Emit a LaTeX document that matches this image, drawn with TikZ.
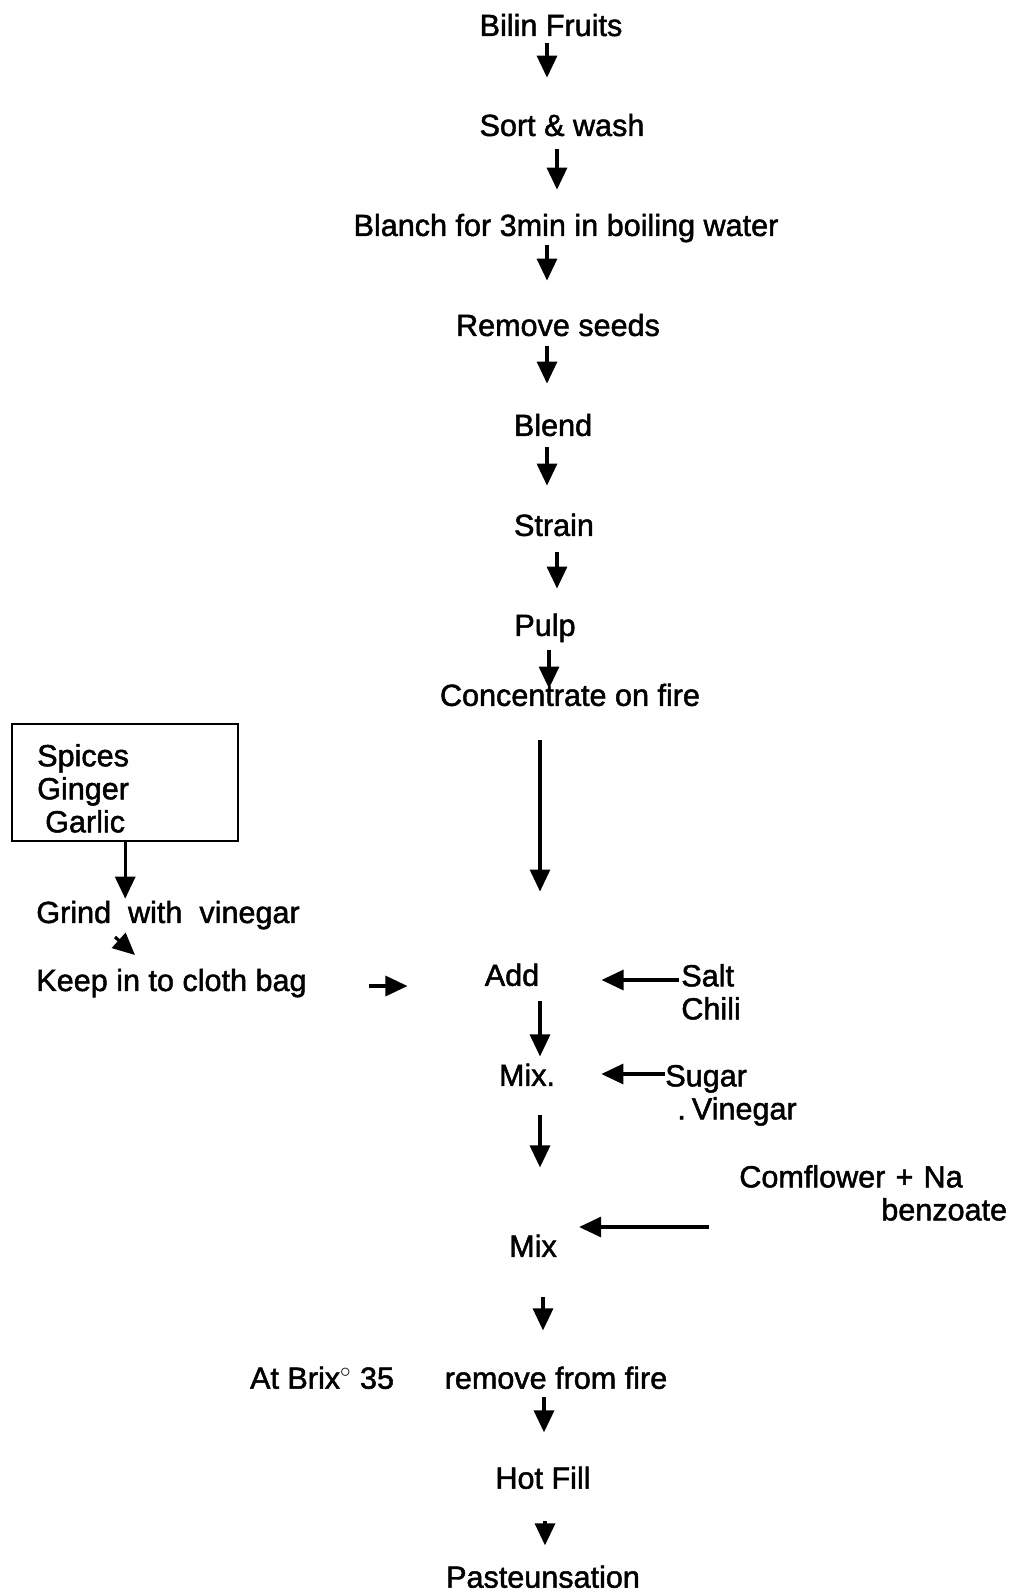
\documentclass[tikz,border=0pt]{standalone}
\usepackage{fontspec}
\setmainfont{Liberation Sans}[UprightFeatures={FakeBold=1.6}]
\usetikzlibrary{positioning, arrows.meta}

\tikzset{
	stage/.style={inner sep=0pt, text height=12.5pt, text depth=0pt, font=\fontsize{17.4pt}{18.8pt}\selectfont},
	flow/.style={-{Triangle[width=0.4cm, length=0.44cm]}, line width=1.8pt},
	spicebox/.style={draw, line width=1.4pt, anchor=north west, align=left, text width=3.52cm,
		inner xsep=0.5cm, inner ysep=0pt, text height=23.9pt, text depth=42.7pt},
	side/.style={anchor=north west, align=left},
}

\begin{document}
\begin{tikzpicture}[x=0.02cm, y=-0.02cm, node distance=2cm, every node/.style={stage}]
	\useasboundingbox (0,0) rectangle (1011,1593);

	% main line
	\node (q0) at (551,25) {Bilin Fruits};
	\node[below of = q0, xshift=0.22cm] (q1) {Sort \& wash};
	\node[below of = q1, xshift=0.08cm] (q2) {Blanch for 3min in boiling water};
	\node[below of = q2, xshift=-0.16cm] (q3) {Remove seeds};
	\node[below of = q3, xshift=-0.1cm] (q4) {Blend};
	\node[below of = q4, xshift=0.02cm] (q5) {Strain};
	\node[below of = q5, xshift=-0.18cm] (q6) {Pulp};
	\node[below of = q6, node distance=1.4cm, xshift=0.5cm] (q7) {Concentrate on fire};
	\node[below of = q7, node distance=5.6cm, xshift=-1.16cm] (add) {Add};
	\node[below of = add, xshift=0.3cm] (mix1) {Mix.};
	\node[below of = mix1, node distance=3.42cm, xshift=0.12cm] (mix2) {Mix};
	\node[below of = mix2, node distance=2.64cm, xshift=0.46cm] (rm) {remove from fire};
	\node[left = 1cm of rm] (brix) {At Brix$^\circ$ 35};
	\node[below of = rm, xshift=-0.26cm] (hot) {Hot Fill};
	\node[below of = hot, node distance=1.98cm] (past) {Pasteunsation};

	% side inputs
	\node[spicebox] (spc) at (11,723) {Spices\\Ginger\\\hspace*{0.16cm}Garlic};
	\node[anchor=west] (grind) at (36,912) {Grind\ \ with\ \ vinegar};
	\node[anchor=west] (keep) at (36,980) {Keep in to cloth bag};
	\node[side, text width=2cm] (salt) at (681,964) {Salt\\Chili};
	\node[side, text width=3cm] (sugar) at (665,1064) {Sugar\\\hspace*{0.24cm}.\hspace{0.12cm}Vinegar};
	\node[side, text width=6cm] (corn) at (739,1165) {Comflower + Na\\\hspace*{2.84cm}benzoate};
	\coordinate (cf) at ([shift={(-30,62)}]corn.north west);

	\draw[flow, shorten <=0.14cm, shorten >=0.72cm] ([xshift=-0.08cm]q0.south) -- ([xshift=-0.08cm]q0.south |- q1.north);
	\draw[flow, shorten <=0.26cm, shorten >=0.48cm] ([xshift=-0.1cm]q1.south) -- ([xshift=-0.1cm]q1.south |- q2.north);
	\draw[flow, shorten <=0.18cm, shorten >=0.66cm] ([xshift=-0.38cm]q2.south) -- ([xshift=-0.38cm]q2.south |- q3.north);
	\draw[flow, shorten <=0.2cm, shorten >=0.6cm] ([xshift=-0.22cm]q3.south) -- ([xshift=-0.22cm]q3.south |- q4.north);
	\draw[flow, shorten <=0.22cm, shorten >=0.56cm] ([xshift=-0.12cm]q4.south) -- ([xshift=-0.12cm]q4.south |- q5.north);
	\draw[flow, shorten <=0.32cm, shorten >=0.5cm] ([xshift=0.06cm]q5.south) -- ([xshift=0.06cm]q5.south |- q6.north);
	\draw[flow, shorten <=0.28cm, shorten >=-0.1cm] ([xshift=0.08cm]q6.south) -- ([xshift=0.08cm]q6.south |- q7.north);
	\draw[flow, shorten <=0.68cm, shorten >=1.44cm] ([xshift=-0.6cm]q7.south) -- ([xshift=-0.6cm]q7.south |- add.north);
	\draw[flow, shorten <=0.3cm, shorten >=0.14cm] ([xshift=0.56cm]add.south) -- ([xshift=0.56cm]add.south |- mix1.north);
	\draw[flow, shorten <=0.58cm, shorten >=1.34cm] ([xshift=0.26cm]mix1.south) -- ([xshift=0.26cm]mix1.south |- mix2.north);
	\draw[flow, shorten <=0.8cm, shorten >=0.72cm] ([xshift=0.2cm]mix2.south) -- ([xshift=0.2cm]mix2.south |- rm.north);
	\draw[flow, shorten <=0.16cm, shorten >=0.68cm] ([xshift=-0.24cm]rm.south) -- ([xshift=-0.24cm]rm.south |- hot.north);
	\draw[flow, shorten <=0.64cm, shorten >=0.4cm] ([xshift=0.04cm]hot.south) -- ([xshift=0.04cm]hot.south |- past.north);

	\draw[flow, shorten >=0.04cm] (spc.south) -- (spc.south |- grind.north);
	\draw[flow] ([shift={(79,25)}]grind.west) -- ([shift={(99,-25)}]keep.west);
	\draw[flow, shorten <=1.24cm, shorten >=1.54cm] ([yshift=-0.12cm]keep.east) -- ([yshift=-0.12cm]keep.east -| add.west);
	\draw[flow, shorten <=0.04cm, shorten >=1.24cm] ([yshift=-0.32cm]salt.north west) -- ([yshift=-0.32cm]salt.north west -| add.east);
	\draw[flow, shorten >=0.92cm] ([yshift=-0.2cm]sugar.north west) -- ([yshift=-0.2cm]sugar.north west -| mix1.east);
	\draw[flow, shorten >=0.44cm] (cf) -- (cf -| mix2.east);

\end{tikzpicture}
\end{document}
